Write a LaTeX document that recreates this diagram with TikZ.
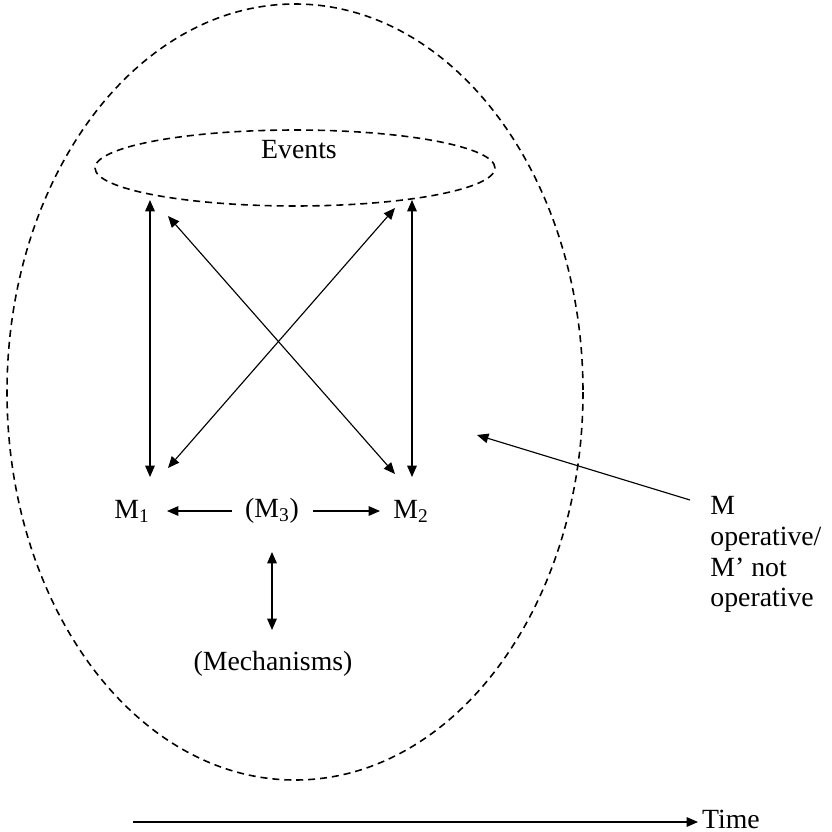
\documentclass[tikz,border=0pt]{standalone}
\usepackage{fontspec}
\setmainfont{Liberation Serif}
\usetikzlibrary{arrows.meta, positioning, shapes.geometric}

\begin{document}
\begin{tikzpicture}[x=0.02cm, y=-0.02cm, >={Triangle[length=6.5pt, width=5.5pt]}, line width=0.65pt,
    font=\fontsize{15.8}{17.5}\selectfont,
    boundary/.style={dashed, dash pattern=on 4pt off 2.8pt, line width=0.9pt}]
    \useasboundingbox (0,0) rectangle (832,832);

    % Outer boundary
    \draw[boundary] (295,392) ellipse [x radius=288, y radius=388];

    % Events
    \node[boundary, draw, ellipse, minimum width=8cm, minimum height=1.52cm] (events) at (295,168) {};
    \node (eventslabel) at (299,150) {Events};

    % Mechanisms
    \node (M1) at (132,511) {M\textsubscript{1}};
    \node (M3) at (272,511) {(M\textsubscript{3})};
    \node (M2) at (411,511) {M\textsubscript{2}};
    \node (mech) at (273,664) {(Mechanisms)};

    % Arrow ends
    \coordinate (e1) at (150,200);
    \coordinate (e2) at (168,216);
    \coordinate (e3) at (395,208);
    \coordinate (e4) at (412,200);
    \coordinate (m1a) at (150,477);
    \coordinate (m1b) at (168,468);
    \coordinate (m2a) at (395,474);
    \coordinate (m2b) at (412,477);
    \coordinate (m3w) at (232,511);
    \coordinate (m3e) at (313,511);
    \coordinate (m1e) at (167,511);
    \coordinate (m2w) at (380,511);
    \coordinate (m3s) at (272,552);
    \coordinate (mechn) at (272,630);

    % Arrows
    \draw[<->] (e1) -- (m1a);
    \draw[<->] (e2) -- (m2a);
    \draw[<->] (e3) -- (m1b);
    \draw[<->] (e4) -- (m2b);
    \draw[->] (m3w) -- (m1e);
    \draw[->] (m3e) -- (m2w);
    \draw[<->] (m3s) -- (mechn);

    % Note
    \node[align=left, anchor=north west] (note) at (704,490) {M\\operative/\\M’ not\\operative};
    \coordinate (target) at (477,435);
    \coordinate (notestart) at (690,500);
    \draw[->] (notestart) -- (target);

    % Time
    \node[anchor=base west, inner sep=2pt] (time) at (698,828) {Time};
    \coordinate (timestart) at (133,822);
    \draw[->] (timestart) -- (timestart -| time.west);
\end{tikzpicture}
\end{document}
